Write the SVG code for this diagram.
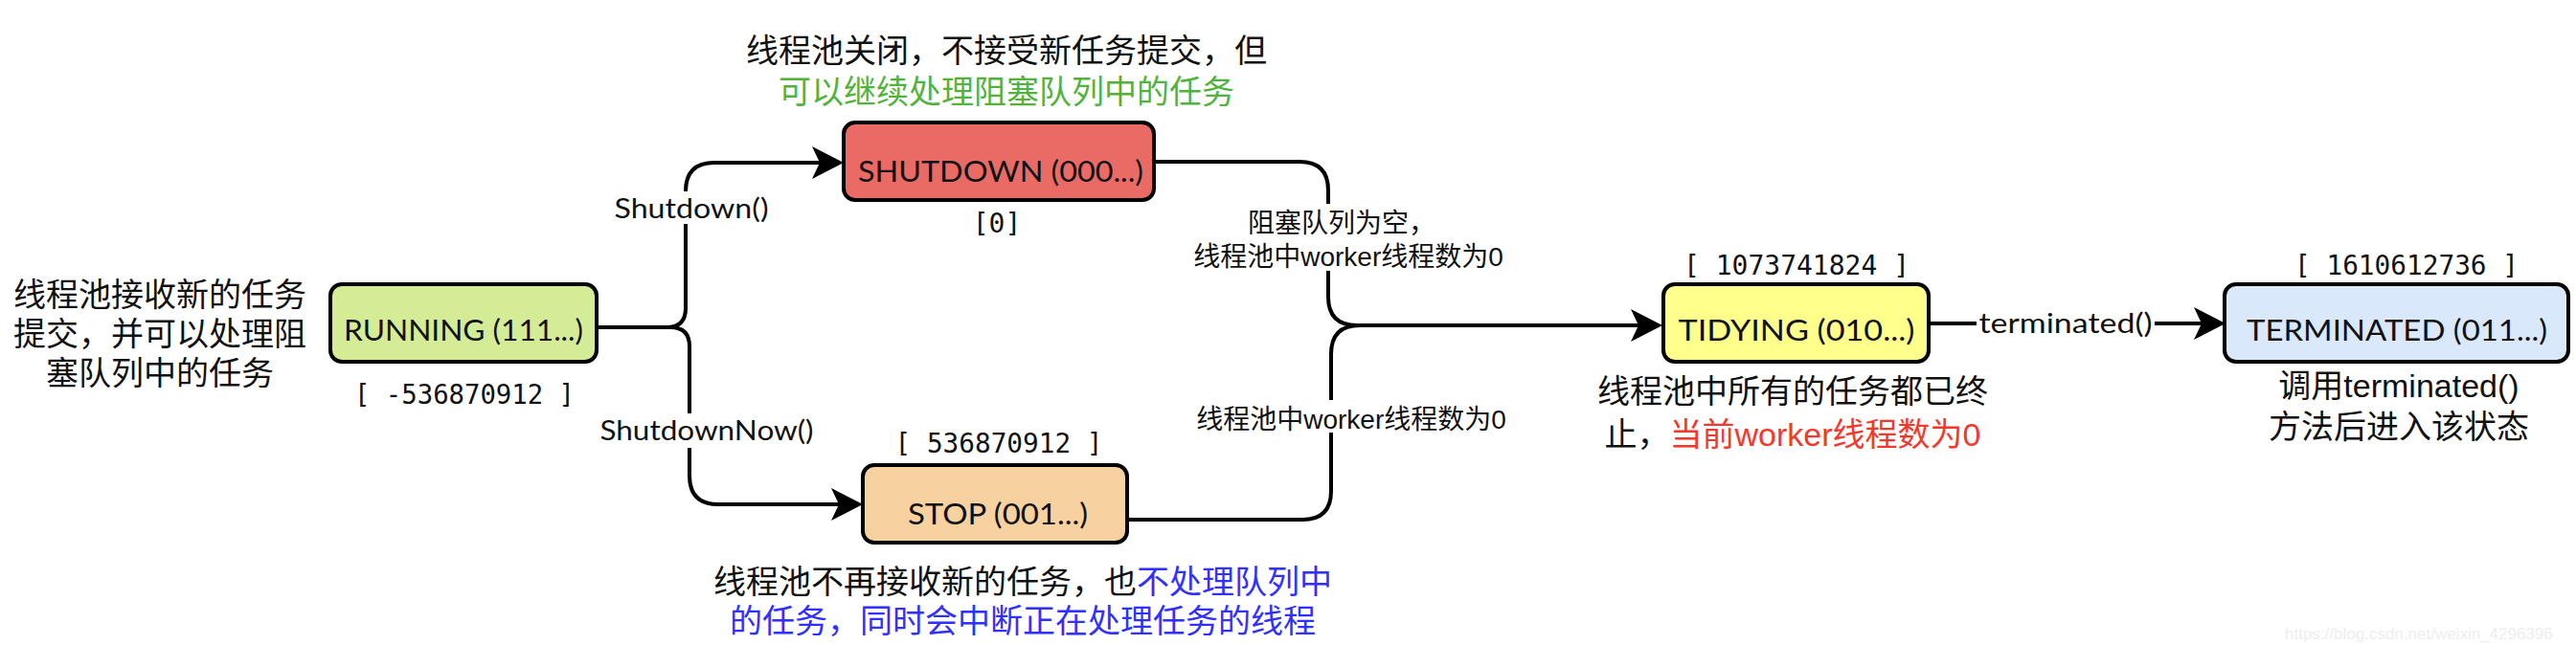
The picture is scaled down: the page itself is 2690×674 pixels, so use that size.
<svg xmlns="http://www.w3.org/2000/svg" width="2690" height="674" viewBox="0 0 2690 674">
<style>
.box{stroke:#000;stroke-width:4}
.lbl{font-family:Lato,"Noto Sans",sans-serif;font-size:31px;fill:#111;text-anchor:middle}
.elbl{font-family:Lato,"Noto Sans",sans-serif;font-size:29px;fill:#111;text-anchor:middle}
.num{font-family:"DejaVu Sans Mono","Liberation Mono",monospace;font-size:28px;fill:#111;text-anchor:middle}
.cn{font-family:"Liberation Sans","Noto Sans CJK SC",sans-serif;font-size:34px;fill:#111;text-anchor:middle}
.cns{font-family:"Liberation Sans","Noto Sans CJK SC",sans-serif;font-size:28px;fill:#111;text-anchor:middle}
.edge{fill:none;stroke:#000;stroke-width:4}
.green{fill:#52b33c}
.blue{fill:#3030ff}
.red{fill:#f5382c}
</style>
<defs>
<marker id="arr" markerUnits="userSpaceOnUse" markerWidth="34" markerHeight="36" viewBox="0 0 34 36" refX="20" refY="18" orient="auto">
<path d="M0,1 L33,18 L0,35 L8,18 Z" fill="#000"/>
</marker>
</defs>
<rect width="2690" height="674" fill="#fff"/>

<g id="connectors">
<path class="edge" d="M623,342 H696 Q716,342 716,322 V200 Q716,170 746,170 H868" marker-end="url(#arr)"/>
<path class="edge" d="M623,342 H700 Q720,342 720,362 V497 Q720,527 750,527 H888" marker-end="url(#arr)"/>
<path class="edge" d="M1205,169 H1357 Q1387,169 1387,199 V310 Q1387,340 1417,340 H1723" marker-end="url(#arr)"/>
<path class="edge" d="M1177,543 H1360 Q1390,543 1390,513 V370 Q1390,340 1420,340"/>
<path class="edge" d="M2014,338 H2311" marker-end="url(#arr)"/>
<g id="edge-labels">
<rect x="640" y="200" width="165" height="34" fill="#fff"/>
<text class="elbl" x="722" y="228" textLength="161" lengthAdjust="spacingAndGlyphs">Shutdown()</text>
<rect x="624" y="432" width="228" height="36" fill="#fff"/>
<text class="elbl" x="738" y="460" textLength="223" lengthAdjust="spacingAndGlyphs">ShutdownNow()</text>
<rect x="1222" y="213" width="374" height="70" fill="#fff"/>
<text class="cns" x="1401" y="243">阻塞队列为空，<tspan x="1408" dy="35">线程池中worker线程数为0</tspan></text>
<rect x="1224" y="418" width="374" height="34" fill="#fff"/>
<text class="cns" x="1411" y="448">线程池中worker线程数为0</text>
<rect x="2064" y="320" width="186" height="36" fill="#fff"/>
<text class="elbl" x="2157" y="348" textLength="181" lengthAdjust="spacingAndGlyphs">terminated()</text>
</g>
</g>

<g id="note-running">
<text class="cn" x="167" y="320">线程池接收新的任务<tspan x="167" dy="41">提交，并可以处理阻</tspan><tspan x="167" dy="41">塞队列中的任务</tspan></text>
</g>

<g id="running">
<rect class="box" x="345" y="297" width="278" height="81" rx="12" fill="#d5ec97"/>
<text class="lbl" x="484" y="356" textLength="250" lengthAdjust="spacingAndGlyphs">RUNNING (111...)</text>
<text class="num" x="485" y="422" textLength="230" lengthAdjust="spacingAndGlyphs">[ -536870912 ]</text>
</g>

<g id="shutdown">
<text class="cn" x="1051" y="65">线程池关闭，不接受新任务提交，但<tspan class="green" x="1051" dy="43">可以继续处理阻塞队列中的任务</tspan></text>
<rect class="box" x="881" y="128" width="324" height="81" rx="12" fill="#ea6b66"/>
<text class="lbl" x="1045" y="190" textLength="298" lengthAdjust="spacingAndGlyphs">SHUTDOWN (000...)</text>
<text class="num" x="1041" y="243">[0]</text>
</g>

<g id="stop">
<text class="num" x="1043" y="473" textLength="217" lengthAdjust="spacingAndGlyphs">[ 536870912 ]</text>
<rect class="box" x="901" y="486" width="276" height="81" rx="12" fill="#f8d1a0"/>
<text class="lbl" x="1042" y="548" textLength="188" lengthAdjust="spacingAndGlyphs">STOP (001...)</text>
<text class="cn" x="1068" y="620">线程池不再接收新的任务，也<tspan class="blue">不处理队列中</tspan><tspan class="blue" x="1068" dy="41">的任务，同时会中断正在处理任务的线程</tspan></text>
</g>

<g id="tidying">
<text class="num" x="1876" y="287" textLength="236" lengthAdjust="spacingAndGlyphs">[ 1073741824 ]</text>
<rect class="box" x="1737" y="297" width="277" height="81" rx="12" fill="#ffff8c"/>
<text class="lbl" x="1876" y="356" textLength="247" lengthAdjust="spacingAndGlyphs">TIDYING (010...)</text>
<text class="cn" x="1872" y="421">线程池中所有的任务都已终<tspan x="1872" dy="45">止，</tspan><tspan class="red">当前worker线程数为0</tspan></text>
</g>

<g id="terminated">
<text class="num" x="2513" y="287" textLength="234" lengthAdjust="spacingAndGlyphs">[ 1610612736 ]</text>
<rect class="box" x="2323" y="297" width="359" height="81" rx="12" fill="#dae8fc"/>
<text class="lbl" x="2503" y="356" textLength="314" lengthAdjust="spacingAndGlyphs">TERMINATED (011...)</text>
<text class="cn" x="2505" y="415">调用terminated()<tspan x="2505" dy="43">方法后进入该状态</tspan></text>
</g>

<text x="2386" y="668" font-family="Liberation Sans, sans-serif" font-size="17" fill="#eeeeee">https://blog.csdn.net/weixin_4296396</text>
</svg>
